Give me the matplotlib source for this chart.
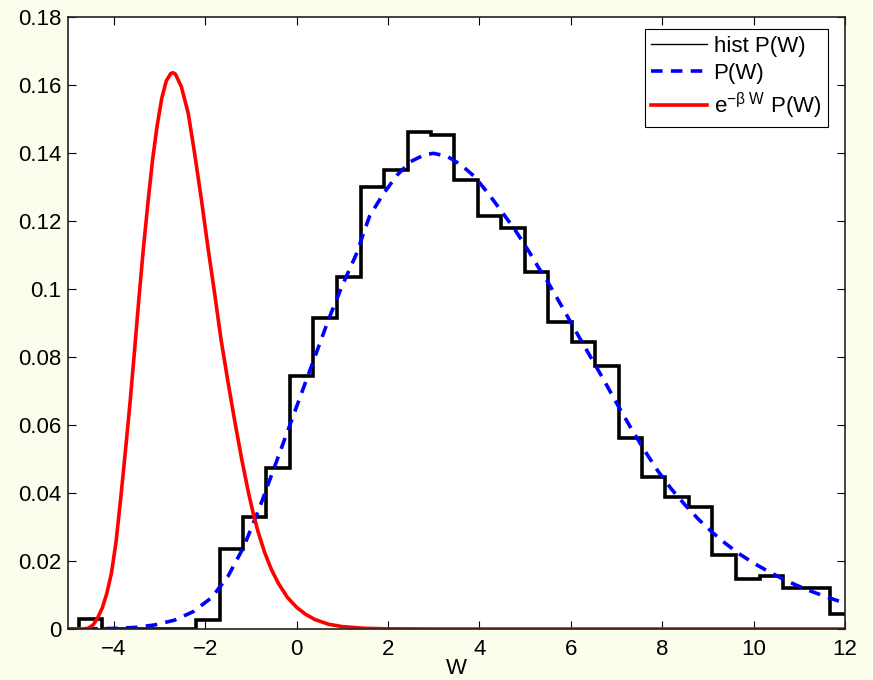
import matplotlib
matplotlib.use("Agg")
import matplotlib.pyplot as plt
from matplotlib.lines import Line2D

plt.rcParams['font.family'] = ['Liberation Sans', 'DejaVu Sans']
plt.rcParams['mathtext.fontset'] = 'custom'
plt.rcParams['mathtext.rm'] = 'Liberation Sans'
plt.rcParams['mathtext.it'] = 'Liberation Sans'

# histogram of W
hist_edges = [-5.28, -4.77, -4.25, -3.74, -3.22, -2.71, -2.20, -1.68, -1.17, -0.66,
              -0.14, 0.37, 0.89, 1.40, 1.91, 2.43, 2.94, 3.45, 3.97, 4.48,
              4.99, 5.51, 6.02, 6.53, 7.05, 7.56, 8.07, 8.59, 9.10, 9.62,
              10.13, 10.64, 11.16, 11.67, 12.18]
hist_vals = [0, 0.0030, 0, 0, 0, 0, 0.0027, 0.0234, 0.0330, 0.0474,
             0.0744, 0.0914, 0.1036, 0.1299, 0.1350, 0.1462, 0.1452, 0.1321, 0.1216, 0.1178,
             0.1051, 0.0903, 0.0845, 0.0774, 0.0562, 0.0447, 0.0388, 0.0358, 0.0218, 0.0146,
             0.0157, 0.0122, 0.0120, 0.0043]

# P(W), dashed blue
pw_x = [-4.6, -3.9, -3.5, -3.1, -2.67, -2.26, -1.86, -1.5, -1.16, -0.8,
        -0.5, -0.2, 0.1, 0.4, 0.7, 1.0, 1.3, 1.6, 1.9, 2.2,
        2.5, 2.8, 3.0, 3.3, 3.6, 3.9, 4.2, 4.5, 4.8, 5.1,
        5.3, 5.5, 5.8, 6.1, 6.4, 6.7, 7.0, 7.3, 7.6, 7.9,
        8.2, 8.5, 8.8, 9.1, 9.4, 9.7, 10.0, 10.3, 10.6, 10.9,
        11.2, 11.5, 11.8, 12.0]
pw_y = [0.0, 0.0002, 0.0005, 0.0012, 0.0026, 0.0051, 0.0092, 0.0155, 0.0240, 0.0360,
        0.0470, 0.0580, 0.0690, 0.0800, 0.0910, 0.1010, 0.1100, 0.1215, 0.1280, 0.1335,
        0.1375, 0.1395, 0.1399, 0.1390, 0.1365, 0.1330, 0.1280, 0.1226, 0.1170, 0.1107,
        0.1062, 0.1020, 0.0950, 0.0878, 0.0808, 0.0738, 0.0665, 0.0595, 0.0528, 0.0466,
        0.0412, 0.0365, 0.0322, 0.0284, 0.0250, 0.0220, 0.0194, 0.0171, 0.0150, 0.0131,
        0.0114, 0.0099, 0.0085, 0.0076]

# e^{-beta W} P(W), red
rw_x = [-5.0, -4.7, -4.56, -4.45, -4.35, -4.25, -4.15, -4.05, -3.95, -3.85,
        -3.75, -3.65, -3.55, -3.45, -3.35, -3.25, -3.15, -3.05, -2.95, -2.85,
        -2.75, -2.70, -2.65, -2.52, -2.37, -2.23, -2.08, -1.94, -1.79, -1.65,
        -1.5, -1.35, -1.2, -1.05, -0.95, -0.85, -0.7, -0.55, -0.4, -0.2,
        0.0, 0.2, 0.4, 0.7, 1.0, 1.5, 2.0, 3.0, 12.0]
rw_y = [0, 0, 0.0002, 0.0012, 0.0033, 0.0062, 0.0105, 0.0164, 0.0255, 0.0380,
        0.0515, 0.0655, 0.0810, 0.0970, 0.1120, 0.1255, 0.1380, 0.1480, 0.1560, 0.1612,
        0.1634, 0.1636, 0.1632, 0.1595, 0.1517, 0.1399, 0.1262, 0.1124, 0.0985, 0.0850,
        0.0727, 0.0610, 0.0500, 0.0400, 0.0342, 0.0290, 0.0226, 0.0175, 0.0135, 0.0093,
        0.0064, 0.0043, 0.0028, 0.0014, 0.0007, 0.0002, 0.00005, 0, 0]

x_ticks = [-4, -2, 0, 2, 4, 6, 8, 10, 12]
y_ticks = [0, 0.02, 0.04, 0.06, 0.08, 0.1, 0.12, 0.14, 0.16, 0.18]
y_labels = ['0', '0.02', '0.04', '0.06', '0.08', '0.1', '0.12', '0.14', '0.16', '0.18']

bg = '#fdfdee'
fig = plt.figure(figsize=(8.73, 6.8), dpi=100, facecolor=bg)
ax = fig.add_axes([0.0779, 0.075, 0.890, 0.90])

ax.stairs(hist_vals, hist_edges, baseline=None, color='k', lw=2.6)
ax.plot(pw_x, pw_y, color='#0000ff', lw=2.6, dashes=(3.2, 2.3))
ax.plot(rw_x, rw_y, color='#ff0000', lw=2.6)

ax.set_xlim(-5, 12)
ax.set_ylim(0, 0.18)
ax.set_xticks(x_ticks)
ax.set_yticks(y_ticks)
ax.set_yticklabels(y_labels)
ax.tick_params(direction='in', top=True, right=True, length=6, width=0.8,
               labelsize=16, colors='k', pad=5)
ax.tick_params(axis='x', pad=7)
for s in ax.spines.values():
    s.set_linewidth(1.2)
    s.set_color('#222222')
ax.set_xlabel('W', fontsize=16, labelpad=-1)

handles = [Line2D([], [], color='k', lw=1.0),
           Line2D([], [], color='#0000ff', lw=2.6, dashes=(3.2, 2.3)),
           Line2D([], [], color='#ff0000', lw=2.6)]
labels = ['hist P(W)', 'P(W)', r'$\mathregular{e^{-\beta\ W}}$ P(W)']
leg = ax.legend(handles, labels, loc='upper right', bbox_to_anchor=(0.978, 0.980),
                borderaxespad=0, fontsize=16, fancybox=False, framealpha=1,
                edgecolor='k', handlelength=2.5, handletextpad=0.3,
                labelspacing=0.28, borderpad=0.3)
leg.get_frame().set_linewidth(0.8)

fig.savefig('out.png', dpi=100, facecolor=bg)
